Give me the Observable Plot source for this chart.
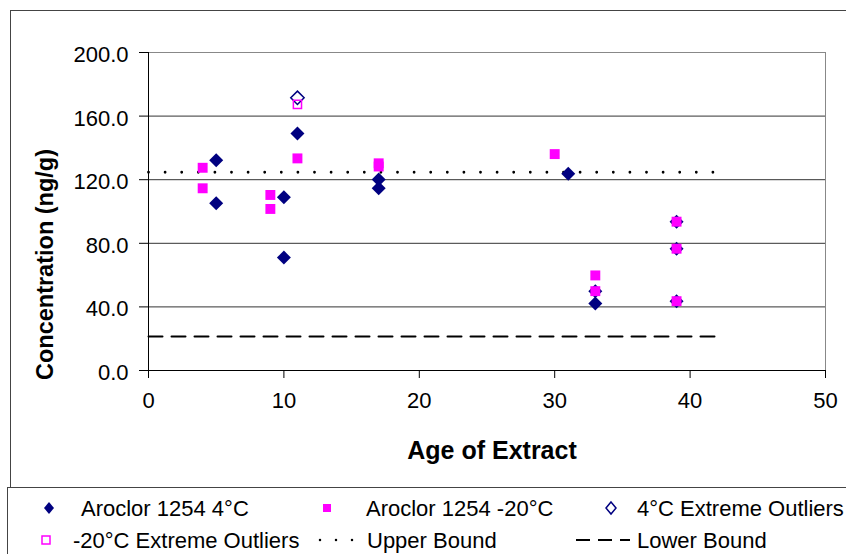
<!DOCTYPE html>
<html><head><meta charset="utf-8">
<script src="https://cdn.jsdelivr.net/npm/d3@7"></script>
<script src="https://cdn.jsdelivr.net/npm/@observablehq/plot@0.6"></script>
<style>
body{margin:0;background:#fff;font-family:"Liberation Sans",Arial,sans-serif;}
#wrap{position:relative;width:846px;height:554px;overflow:hidden;background:#fff;}
#frame{position:absolute;left:10px;top:10px;width:900px;height:477px;border-left:1px solid #444;border-top:1px solid #444;box-sizing:border-box;}
#chart{position:absolute;left:0;top:0;}
#legend{position:absolute;left:7px;top:487px;width:900px;height:100px;border-left:1px solid #444;border-top:1px solid #444;box-sizing:border-box;}
#legendsvg{position:absolute;left:0;top:0;}
</style>
</head><body>
<div id="wrap"><div id="frame"></div><div id="chart"></div><div id="legend"></div><svg id="legendsvg" width="846" height="554"></svg></div>
<script>
// ---- data ----
const age4 = [5, 5, 10, 10, 11, 17, 17, 31, 33, 33, 39, 39, 39];
const conc4 = [132.2, 105.2, 108.9, 71.0, 149.1, 120.2, 114.6, 123.8, 49.9, 42.1, 93.6, 76.6, 43.6];
const age20 = [4, 4, 9, 9, 11, 17, 17, 30, 33, 33, 39, 39, 39];
const conc20 = [127.5, 114.6, 110.4, 101.6, 133.4, 130.3, 128.3, 136.1, 59.8, 49.9, 93.6, 76.6, 43.6];
const ageOut4 = [11];
const concOut4 = [171.5];
const ageOut20 = [11];
const concOut20 = [167.4];
const boundAge = [0, 42];
const upperBound = 124.7;
const lowerBound = 21.4;
const xTicks = [0, 10, 20, 30, 40, 50];
const yTicks = [0, 40, 80, 120, 160, 200];
const xTitle = "Age of Extract";
const yTitle = "Concentration (ng/g)";
const legendLabels = ["Aroclor 1254 4°C", "Aroclor 1254 -20°C", "4°C Extreme Outliers",
                      "-20°C Extreme Outliers", "Upper Bound", "Lower Bound"];

const NAVY = "#000080", MAG = "#ff00ff";
const FONT = "'Liberation Sans', Arial, sans-serif";
const pts = (xs, ys) => xs.map((x, i) => ({x, y: ys[i]}));
const d4 = pts(age4, conc4), d20 = pts(age20, conc20);
const o4 = pts(ageOut4, concOut4), o20 = pts(ageOut20, concOut20);
const ub = boundAge.map(x => ({x, y: upperBound}));
const lb = boundAge.map(x => ({x, y: lowerBound}));

const plot = Plot.plot({
  width: 846, height: 487,
  marginLeft: 148, marginRight: 21, marginTop: 52, marginBottom: 117,
  style: {fontFamily: FONT, fontSize: "22px", color: "#000", background: "transparent", overflow: "visible"},
  x: {domain: [0, 50], ticks: xTicks, label: null, tickSize: 8, tickPadding: 14},
  y: {domain: [0, 200], ticks: yTicks, label: null, tickSize: 9, tickPadding: 11, tickFormat: d => d.toFixed(1)},
  marks: [
    Plot.ruleY(yTicks.filter(d => d > 0 && d < 200), {stroke: "#333"}),
    Plot.ruleY([200], {stroke: "#888"}),
    Plot.ruleX([50], {stroke: "#888"}),
    Plot.ruleY([0], {stroke: "#000"}),
    Plot.ruleX([0], {stroke: "#000"}),
    Plot.line(ub, {x: "x", y: "y", stroke: "#000", strokeWidth: 2.8, strokeDasharray: "0,16.6", strokeLinecap: "round"}),
    Plot.line(lb, {x: "x", y: "y", stroke: "#000", strokeWidth: 2, strokeDasharray: "14,9"}),
    Plot.dot(d4, {x: "x", y: "y", symbol: "diamond2", r: 6.3, fill: NAVY, stroke: "none"}),
    Plot.dot(d20, {x: "x", y: "y", symbol: "square", r: 5.6, fill: MAG, stroke: "none"}),
    Plot.dot(o4, {x: "x", y: "y", symbol: "diamond2", r: 6.0, fill: "none", stroke: NAVY, strokeWidth: 1.5}),
    Plot.dot(o20, {x: "x", y: "y", symbol: "square", r: 4.6, fill: "none", stroke: MAG, strokeWidth: 1.5}),
    Plot.text([yTitle], {frameAnchor: "left", textAnchor: "middle", lineAnchor: "middle", rotate: -90, dx: -103, dy: 53, fontSize: 23.5, fontWeight: "bold", fill: "#000"}),
    Plot.text([xTitle], {frameAnchor: "bottom", textAnchor: "middle", lineAnchor: "middle", dx: 5, dy: 80, fontSize: 25, fontWeight: "bold", fill: "#000"})
  ]
});
// tick label font size and a small downward nudge of y tick labels
d3.select(plot).selectAll("g[aria-label*='tick label'], g[aria-label$='-axis']").attr("font-size", 22).attr("font-family", FONT);
d3.select(plot).selectAll("g[aria-label='y-axis tick label']").each(function() {
  const t = this.getAttribute("transform") || "";
  this.setAttribute("transform", (t + " translate(0,2.5)").trim());
});
document.getElementById("chart").appendChild(plot);

// ---- legend ----
const svg = d3.select("#legendsvg");
const items = [
  {label: legendLabels[0], mx: 49, tx: 81, y: 508, kind: "diamond"},
  {label: legendLabels[1], mx: 327, tx: 366, y: 508, kind: "square"},
  {label: legendLabels[2], mx: 611, tx: 637, y: 508, kind: "odiamond"},
  {label: legendLabels[3], mx: 46, tx: 73, y: 540, kind: "osquare"},
  {label: legendLabels[4], mx: 336, tx: 367, y: 540, kind: "dots"},
  {label: legendLabels[5], mx: 603, tx: 637, y: 540, kind: "dashes"}
];
for (const it of items) {
  const g = svg.append("g");
  const {mx, y} = it;
  if (it.kind === "diamond") g.append("path").attr("d", `M${mx},${y-6}L${mx+5},${y}L${mx},${y+6}L${mx-5},${y}Z`).attr("fill", NAVY);
  if (it.kind === "square") g.append("rect").attr("x", mx-4).attr("y", y-4).attr("width", 8).attr("height", 8).attr("fill", MAG);
  if (it.kind === "odiamond") g.append("path").attr("d", `M${mx},${y-6}L${mx+5},${y}L${mx},${y+6}L${mx-5},${y}Z`).attr("fill", "none").attr("stroke", NAVY).attr("stroke-width", 1.5);
  if (it.kind === "osquare") g.append("rect").attr("x", mx-4).attr("y", y-4).attr("width", 8).attr("height", 8).attr("fill", "none").attr("stroke", MAG).attr("stroke-width", 1.5);
  if (it.kind === "dots") g.append("line").attr("x1", 320).attr("x2", 353).attr("y1", y).attr("y2", y).attr("stroke", "#000").attr("stroke-width", 2.5).attr("stroke-linecap", "round").attr("stroke-dasharray", "0,16");
  if (it.kind === "dashes") g.append("line").attr("x1", 576).attr("x2", 630).attr("y1", y).attr("y2", y).attr("stroke", "#000").attr("stroke-width", 2).attr("stroke-dasharray", "14,8");
  svg.append("text").attr("x", it.tx).attr("y", y).attr("dy", "0.35em").attr("font-size", 22)
    .attr("font-family", FONT).attr("fill", "#000").text(it.label);
}
</script>
</body></html>
